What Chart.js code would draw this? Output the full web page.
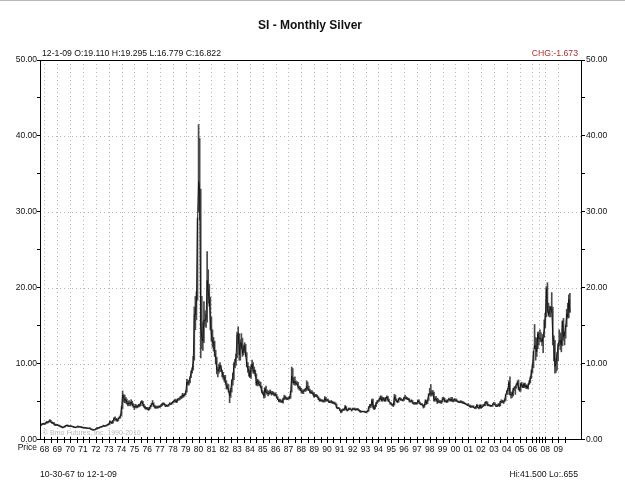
<!DOCTYPE html>
<html>
<head>
<meta charset="utf-8">
<title>SI - Monthly Silver</title>
<script src="https://cdn.jsdelivr.net/npm/chart.js@4.4.0/dist/chart.umd.min.js"></script>
<style>
  html, body { margin: 0; padding: 0; background: #fff; }
  canvas { display: block; }
</style>
</head>
<body>
<canvas id="silver" width="625" height="484"></canvas>
<script>
// monthly bars Oct 1967 .. Dec 2009, the feed only has every other month in 2006-07
var sparseMonths = ['2006-01', '2006-03', '2006-05', '2006-07', '2006-09', '2006-11',
                    '2007-01', '2007-03', '2007-05', '2007-07', '2007-09', '2007-11'];

// x axis labels (07 is not printed on the original)
var yearTicks = ['68', '69', '70', '71', '72', '73', '74', '75', '76', '77', '78', '79',
                 '80', '81', '82', '83', '84', '85', '86', '87', '88', '89', '90', '91',
                 '92', '93', '94', '95', '96', '97', '98', '99', '00', '01', '02', '03',
                 '04', '05', '06', '08', '09'];

var priceTicks = [0, 10, 20, 30, 40, 50];

var highs = [
  2.12, 2.18, 2.22,
  2.20, 2.30, 2.45, 2.42, 2.52, 2.70, 2.60, 2.38, 2.32, 2.28, 2.10, 2.08,
  2.05, 2.00, 1.95, 1.88, 1.80, 1.75, 1.75, 1.86, 1.92, 1.98, 1.95, 1.88,
  1.90, 1.88, 1.84, 1.80, 1.76, 1.70, 1.74, 1.84, 1.82, 1.80, 1.78, 1.72,
  1.70, 1.66, 1.66, 1.64, 1.60, 1.58, 1.60, 1.58, 1.48, 1.42, 1.38, 1.42,
  1.50, 1.62, 1.62, 1.68, 1.74, 1.78, 1.82, 1.95, 1.92, 1.90, 1.98, 2.08,
  2.15, 2.50, 2.50, 2.40, 2.60, 2.95, 3.05, 2.85, 2.70, 2.90, 3.05, 3.30,
  4.40, 6.45, 6.00, 5.90, 5.60, 5.40, 5.10, 5.20, 5.00, 5.30, 5.10, 4.80,
  4.50, 4.70, 4.60, 4.55, 4.70, 4.75, 5.05, 5.20, 5.10, 4.70, 4.45, 4.30,
  4.30, 4.25, 4.30, 4.55, 4.85, 5.20, 4.90, 4.60, 4.45, 4.45, 4.45, 4.50,
  4.50, 4.65, 4.85, 4.90, 4.85, 4.70, 4.60, 4.60, 4.70, 4.90, 4.85, 4.95,
  5.10, 5.25, 5.40, 5.25, 5.40, 5.45, 5.55, 5.75, 5.80, 6.15, 6.05, 6.10,
  6.45, 8.00, 7.90, 7.80, 8.30, 9.10, 9.50, 11.00, 17.50, 18.90, 19.50, 29.20,
  41.50, 39.70, 33.00, 18.90, 15.50, 18.20, 17.00, 16.50, 24.80, 22.40, 20.50, 18.80,
  16.20, 14.50, 13.50, 13.00, 11.80, 10.90, 9.60, 10.00, 10.20, 9.80, 9.20, 8.90,
  8.50, 8.50, 7.80, 7.40, 7.30, 6.50, 6.80, 7.90, 8.80, 10.20, 10.60, 11.30,
  14.20, 14.90, 14.00, 13.20, 14.00, 13.40, 12.50, 12.80, 12.60, 11.50, 10.20, 9.70,
  9.20, 9.80, 10.50, 10.20, 9.60, 9.20, 8.70, 8.00, 7.90, 7.70, 7.60, 7.10,
  6.50, 6.30, 6.90, 7.10, 6.60, 6.40, 6.50, 6.60, 6.40, 6.40, 6.30, 6.20,
  6.20, 6.00, 5.70, 5.40, 5.40, 5.30, 5.15, 5.50, 5.90, 5.80, 5.65, 5.55,
  5.65, 5.70, 6.40, 9.60, 9.40, 8.20, 8.30, 7.80, 7.70, 7.60, 7.10, 7.00,
  6.80, 6.60, 6.60, 6.70, 6.80, 7.80, 7.60, 7.10, 6.70, 6.50, 6.50, 6.30,
  6.20, 6.00, 6.00, 5.90, 5.70, 5.50, 5.40, 5.30, 5.30, 5.20, 5.70, 5.60,
  5.40, 5.40, 5.20, 5.10, 5.20, 5.10, 5.00, 5.00, 4.90, 4.75, 4.30, 4.30,
  4.15, 3.95, 4.00, 4.10, 4.10, 4.55, 4.40, 4.00, 4.20, 4.20, 4.20, 4.00,
  4.20, 4.20, 4.20, 4.10, 4.15, 4.15, 4.00, 3.90, 3.80, 3.80, 3.80, 3.80,
  3.75, 3.80, 3.85, 4.40, 4.70, 4.70, 5.40, 5.40, 4.60, 4.50, 4.95, 5.20,
  5.25, 5.50, 5.80, 5.80, 5.60, 5.60, 5.50, 5.60, 5.80, 5.70, 5.40, 5.00,
  4.90, 4.70, 4.80, 6.00, 5.90, 5.40, 5.20, 5.50, 5.60, 5.50, 5.40, 5.30,
  5.65, 5.90, 5.70, 5.60, 5.50, 5.45, 5.20, 5.30, 5.20, 4.95, 4.95, 4.95,
  4.90, 5.30, 5.30, 5.00, 4.80, 4.80, 4.60, 4.70, 5.30, 5.20, 5.30, 6.10,
  6.80, 7.30, 6.50, 6.50, 6.30, 5.70, 5.70, 5.50, 5.40, 5.20, 5.20, 5.10,
  5.60, 5.60, 5.50, 5.20, 5.30, 5.30, 5.50, 5.40, 5.60, 5.60, 5.30, 5.45,
  5.40, 5.40, 5.20, 5.10, 5.10, 5.20, 5.10, 5.10, 5.00, 4.90, 4.80, 4.70,
  4.80, 4.60, 4.60, 4.50, 4.50, 4.50, 4.30, 4.40, 4.70, 4.60, 4.30, 4.65,
  4.60, 4.50, 4.70, 4.70, 5.00, 5.10, 5.00, 4.70, 4.60, 4.60, 4.55, 4.80,
  4.95, 4.90, 4.70, 4.60, 4.80, 4.70, 5.10, 5.30, 5.20, 5.20, 5.40, 6.00,
  6.50, 6.80, 7.80, 8.30, 6.30, 6.30, 6.80, 7.00, 7.00, 7.40, 7.80, 7.90,
  6.90, 7.50, 7.60, 7.30, 7.50, 7.50, 7.30, 7.20, 7.40, 7.80, 8.30, 9.20,
  10.00, 11.70, 15.20, 13.50, 13.40, 14.20, 14.20, 14.50, 14.10, 13.40, 13.90, 15.80,
  16.70, 20.20, 20.70, 18.00, 17.60, 17.60, 19.40, 17.50, 13.70, 13.10, 10.70, 11.50,
  12.70, 14.50, 14.10, 13.10, 15.70, 16.00, 14.20, 15.10, 17.20, 18.00, 19.10, 19.295
];

var lows = [
  1.90, 2.00, 2.05,
  2.02, 2.08, 2.20, 2.22, 2.30, 2.42, 2.30, 2.18, 2.15, 2.00, 1.90, 1.92,
  1.90, 1.85, 1.78, 1.70, 1.65, 1.58, 1.62, 1.68, 1.80, 1.84, 1.80, 1.74,
  1.78, 1.76, 1.72, 1.66, 1.62, 1.60, 1.63, 1.68, 1.66, 1.70, 1.65, 1.60,
  1.58, 1.56, 1.56, 1.54, 1.50, 1.48, 1.50, 1.40, 1.34, 1.30, 1.28, 1.30,
  1.36, 1.44, 1.50, 1.54, 1.62, 1.66, 1.70, 1.76, 1.78, 1.80, 1.84, 1.92,
  1.98, 2.04, 2.25, 2.15, 2.20, 2.52, 2.65, 2.50, 2.45, 2.52, 2.80, 2.88,
  3.20, 4.10, 5.00, 4.90, 4.85, 4.70, 4.50, 4.55, 4.50, 4.65, 4.50, 4.30,
  4.00, 4.25, 4.20, 4.25, 4.35, 4.40, 4.50, 4.85, 4.50, 4.30, 4.10, 4.05,
  4.00, 3.90, 3.95, 4.15, 4.40, 4.65, 4.40, 4.20, 4.15, 4.20, 4.20, 4.25,
  4.30, 4.40, 4.50, 4.65, 4.60, 4.40, 4.40, 4.40, 4.45, 4.60, 4.65, 4.70,
  4.85, 4.95, 5.05, 4.90, 4.95, 5.20, 5.25, 5.35, 5.45, 5.55, 5.65, 5.80,
  5.95, 6.30, 7.20, 7.20, 7.50, 8.20, 8.80, 9.20, 10.50, 14.50, 15.80, 18.40,
  30.00, 29.00, 10.80, 12.00, 11.80, 12.80, 15.00, 14.80, 15.50, 18.00, 17.60, 14.50,
  13.00, 12.20, 11.70, 11.00, 10.00, 8.70, 8.30, 8.80, 9.00, 9.00, 8.30, 8.00,
  7.70, 7.50, 6.70, 6.70, 6.30, 4.90, 5.60, 6.30, 7.20, 7.90, 9.50, 9.80,
  10.80, 12.70, 10.50, 10.50, 12.00, 11.00, 11.20, 11.50, 11.00, 9.60, 8.90, 8.40,
  8.20, 8.10, 9.40, 8.80, 8.70, 8.40, 7.20, 7.10, 7.20, 7.10, 6.90, 6.20,
  6.00, 5.50, 5.60, 6.20, 6.00, 5.80, 6.00, 6.10, 5.90, 6.00, 5.90, 5.80,
  5.80, 5.50, 5.30, 5.00, 5.00, 4.95, 4.90, 4.85, 5.30, 5.40, 5.30, 5.30,
  5.35, 5.40, 5.50, 6.30, 7.50, 7.30, 7.20, 7.20, 7.30, 6.80, 6.60, 6.50,
  6.20, 6.10, 6.10, 6.40, 6.40, 6.50, 6.60, 6.50, 6.20, 6.10, 6.10, 5.90,
  5.60, 5.70, 5.70, 5.60, 5.30, 5.10, 5.10, 5.10, 5.00, 5.00, 5.00, 5.10,
  5.10, 5.10, 4.90, 4.90, 4.90, 4.80, 4.80, 4.70, 4.70, 4.20, 4.10, 4.15,
  3.85, 3.55, 3.65, 3.90, 3.90, 4.00, 3.90, 3.80, 3.90, 4.00, 4.00, 3.80,
  3.95, 4.00, 3.95, 3.90, 4.00, 3.90, 3.80, 3.65, 3.65, 3.70, 3.70, 3.65,
  3.60, 3.55, 3.70, 3.80, 4.20, 4.30, 4.50, 4.20, 4.00, 4.10, 4.40, 4.80,
  5.00, 5.10, 5.30, 5.10, 5.10, 5.20, 5.10, 5.10, 5.40, 5.10, 5.00, 4.70,
  4.60, 4.50, 4.40, 4.60, 5.20, 5.00, 4.90, 5.00, 5.30, 5.20, 5.20, 5.10,
  5.20, 5.40, 5.40, 5.30, 5.30, 5.00, 5.00, 5.00, 4.80, 4.70, 4.70, 4.70,
  4.70, 4.80, 5.00, 4.70, 4.60, 4.60, 4.20, 4.30, 4.60, 4.70, 4.80, 5.20,
  5.90, 5.80, 5.80, 6.00, 5.10, 5.10, 5.20, 4.80, 4.90, 4.90, 4.85, 4.80,
  5.00, 5.30, 5.00, 5.00, 4.90, 5.00, 5.20, 5.10, 5.10, 5.10, 5.00, 5.10,
  5.10, 5.10, 5.00, 4.95, 4.90, 4.90, 4.90, 4.80, 4.80, 4.70, 4.65, 4.55,
  4.50, 4.40, 4.30, 4.30, 4.30, 4.25, 4.15, 4.10, 4.20, 4.25, 4.10, 4.20,
  4.20, 4.30, 4.40, 4.50, 4.50, 4.85, 4.50, 4.50, 4.45, 4.40, 4.40, 4.45,
  4.65, 4.60, 4.40, 4.40, 4.50, 4.40, 4.50, 4.90, 4.90, 4.80, 5.00, 5.20,
  6.00, 6.00, 6.50, 5.90, 5.50, 5.60, 5.80, 6.50, 6.00, 6.80, 7.20, 6.60,
  6.40, 6.40, 7.00, 6.90, 6.90, 6.90, 6.80, 6.80, 6.70, 7.30, 7.50, 8.10,
  8.80, 9.50, 12.00, 10.50, 11.00, 12.00, 12.50, 13.00, 12.90, 12.40, 11.50, 13.50,
  14.80, 16.20, 16.80, 16.30, 16.20, 16.20, 16.80, 12.50, 10.40, 8.80, 8.90, 9.20,
  10.40, 12.40, 11.90, 11.60, 12.40, 13.10, 12.50, 13.40, 14.90, 16.00, 16.10, 16.779
];

var closes = [
  2.05, 2.10, 2.15,
  2.10, 2.25, 2.30, 2.35, 2.45, 2.55, 2.35, 2.25, 2.25, 2.05, 1.98, 2.00,
  1.98, 1.92, 1.85, 1.78, 1.72, 1.65, 1.70, 1.82, 1.88, 1.92, 1.86, 1.80,
  1.85, 1.80, 1.78, 1.74, 1.68, 1.65, 1.70, 1.80, 1.72, 1.76, 1.70, 1.66,
  1.64, 1.60, 1.62, 1.58, 1.55, 1.52, 1.56, 1.45, 1.38, 1.34, 1.32, 1.38,
  1.45, 1.58, 1.55, 1.64, 1.70, 1.72, 1.78, 1.90, 1.82, 1.86, 1.95, 2.04,
  2.06, 2.40, 2.35, 2.22, 2.55, 2.85, 2.80, 2.65, 2.55, 2.85, 2.95, 3.20,
  4.20, 5.90, 5.60, 5.20, 5.30, 4.90, 4.70, 4.90, 4.75, 5.00, 4.70, 4.40,
  4.30, 4.50, 4.35, 4.40, 4.60, 4.55, 4.90, 5.05, 4.70, 4.40, 4.20, 4.20,
  4.15, 4.00, 4.20, 4.45, 4.70, 4.85, 4.50, 4.35, 4.30, 4.35, 4.30, 4.40,
  4.42, 4.55, 4.75, 4.75, 4.70, 4.45, 4.55, 4.50, 4.65, 4.80, 4.75, 4.85,
  5.00, 5.15, 5.20, 5.00, 5.30, 5.35, 5.45, 5.60, 5.65, 5.95, 5.75, 6.00,
  6.30, 7.60, 7.40, 7.60, 8.20, 8.90, 9.30, 10.40, 16.50, 16.50, 18.40, 29.00,
  34.00, 33.00, 15.00, 13.50, 13.00, 15.80, 15.70, 16.00, 21.00, 19.50, 18.50, 15.50,
  13.80, 12.80, 12.90, 11.50, 10.80, 9.20, 9.10, 9.20, 9.80, 9.50, 8.90, 8.30,
  8.30, 7.60, 7.00, 7.00, 6.50, 5.80, 6.50, 7.80, 8.30, 9.80, 10.20, 11.00,
  13.80, 14.00, 11.20, 12.80, 12.70, 11.40, 11.90, 12.40, 11.20, 9.90, 9.40, 9.10,
  8.30, 9.50, 10.00, 9.00, 9.20, 8.70, 7.30, 7.80, 7.40, 7.30, 7.00, 6.35,
  6.20, 5.80, 6.80, 6.30, 6.20, 6.10, 6.20, 6.30, 6.10, 6.20, 6.00, 5.90,
  6.00, 5.60, 5.40, 5.10, 5.20, 5.10, 5.00, 5.40, 5.60, 5.60, 5.40, 5.40,
  5.50, 5.50, 6.30, 8.40, 8.00, 7.50, 7.70, 7.40, 7.40, 7.00, 6.90, 6.70,
  6.40, 6.30, 6.40, 6.50, 6.60, 7.10, 6.80, 6.60, 6.30, 6.30, 6.20, 6.10,
  5.70, 5.90, 5.80, 5.70, 5.40, 5.20, 5.20, 5.20, 5.10, 5.10, 5.50, 5.20,
  5.30, 5.20, 4.90, 5.00, 5.10, 4.90, 4.90, 4.80, 4.70, 4.20, 4.20, 4.20,
  3.90, 3.70, 3.95, 3.95, 4.00, 4.40, 4.00, 3.90, 4.10, 4.10, 4.05, 3.90,
  4.10, 4.10, 4.00, 4.00, 4.10, 4.00, 3.90, 3.70, 3.75, 3.75, 3.75, 3.70,
  3.65, 3.70, 3.80, 4.30, 4.50, 4.50, 5.20, 4.50, 4.10, 4.40, 4.90, 5.10,
  5.20, 5.40, 5.70, 5.20, 5.50, 5.40, 5.10, 5.50, 5.70, 5.20, 5.10, 4.90,
  4.80, 4.60, 4.60, 5.70, 5.40, 5.10, 5.00, 5.40, 5.50, 5.30, 5.30, 5.20,
  5.60, 5.50, 5.50, 5.40, 5.40, 5.10, 5.05, 5.20, 4.90, 4.80, 4.90, 4.80,
  4.80, 5.20, 5.00, 4.70, 4.70, 4.60, 4.40, 4.60, 5.20, 4.80, 5.30, 6.00,
  6.00, 6.20, 6.10, 6.20, 5.20, 5.40, 5.40, 5.00, 5.10, 5.00, 5.00, 5.00,
  5.40, 5.50, 5.10, 5.10, 5.00, 5.30, 5.40, 5.20, 5.40, 5.10, 5.20, 5.40,
  5.20, 5.20, 5.00, 5.00, 5.00, 5.00, 4.90, 4.90, 4.80, 4.80, 4.70, 4.60,
  4.60, 4.50, 4.30, 4.40, 4.40, 4.30, 4.20, 4.30, 4.60, 4.30, 4.20, 4.60,
  4.20, 4.40, 4.50, 4.60, 5.00, 4.90, 4.60, 4.60, 4.55, 4.50, 4.50, 4.70,
  4.80, 4.60, 4.40, 4.50, 4.60, 4.50, 5.10, 5.00, 5.10, 5.00, 5.20, 6.00,
  6.30, 6.70, 7.60, 6.00, 6.00, 5.90, 6.60, 6.80, 7.00, 7.30, 7.60, 6.80,
  6.50, 7.40, 7.20, 6.90, 7.40, 7.00, 7.20, 6.80, 7.20, 7.60, 8.20, 8.80,
  9.80, 11.50, 12.50, 12.20, 11.60, 14.00, 13.30, 13.40, 13.20, 12.90, 13.80, 14.40,
  16.20, 19.90, 17.30, 16.50, 16.90, 17.50, 17.30, 13.60, 12.90, 9.70, 10.20, 11.30,
  12.50, 13.00, 13.10, 12.50, 15.60, 13.60, 13.90, 14.90, 16.60, 16.20, 18.50, 16.822
];

function monthRange(y0, m0, y1, m1) {
    var out = [];
    var y = y0, m = m0;
    while (y < y1 || (y == y1 && m <= m1)) {
        out.push(y + '-' + (m < 10 ? '0' : '') + m);
        m++;
        if (m > 12) { m = 1; y++; }
    }
    return out;
}

var months = monthRange(1967, 10, 2005, 12).concat(sparseMonths, monthRange(2008, 1, 2009, 12));

// first bar of a year, by its 2 digit label
function firstBarOf(yy) {
    var full = (parseInt(yy, 10) > 50 ? '19' : '20') + yy;
    for (var i = 0; i < months.length; i++) {
        if (months[i].slice(0, 4) == full) return i;
    }
    return -1;
}

var tickLabelAt = {};
yearTicks.forEach(function (t) { tickLabelAt[firstBarOf(t)] = t; });

var chartFont = '"Liberation Sans", Arial, sans-serif';

var decor = {
    id: 'decor',
    beforeDatasetsDraw: function (chart) {
        var ctx = chart.ctx, a = chart.chartArea;
        var xs = chart.scales.x, ys = chart.scales.y;
        ctx.save();
        ctx.strokeStyle = '#b4b4b4';
        ctx.lineWidth = 1;
        ctx.setLineDash([1, 3]);
        ctx.beginPath();
        months.forEach(function (m, i) {
            if (m.slice(5) != '01') return;
            var px = Math.round(xs.getPixelForValue(i)) + 0.5;
            ctx.moveTo(px, a.top);
            ctx.lineTo(px, a.bottom);
        });
        priceTicks.forEach(function (v) {
            if (v == 0 || v == 50) return;
            var py = Math.round(ys.getPixelForValue(v)) + 0.5;
            ctx.moveTo(a.left, py);
            ctx.lineTo(a.right, py);
        });
        ctx.stroke();
        ctx.restore();
    },
    afterDatasetsDraw: function (chart) {
        var ctx = chart.ctx, a = chart.chartArea;
        var xs = chart.scales.x, ys = chart.scales.y;
        ctx.save();
        ctx.strokeStyle = '#000';
        ctx.lineWidth = 1;
        ctx.beginPath();
        // frame
        ctx.moveTo(a.left + 0.5, a.top + 0.5);
        ctx.lineTo(a.right - 0.5, a.top + 0.5);
        ctx.lineTo(a.right - 0.5, a.bottom - 0.5);
        ctx.lineTo(a.left + 0.5, a.bottom - 0.5);
        ctx.closePath();
        // price ticks every 5
        for (var v = 0; v <= 50; v += 5) {
            var py = Math.round(ys.getPixelForValue(v)) - 0.5;
            if (v == 50) py += 1;
            ctx.moveTo(a.left - 3, py);
            ctx.lineTo(a.left + 1, py);
            ctx.moveTo(a.right - 1, py);
            ctx.lineTo(a.right + 3, py);
        }
        // half year crosses on the date axis
        months.forEach(function (m, i) {
            var mm = m.slice(5);
            if (mm != '01' && mm != '07') return;
            var px = Math.round(xs.getPixelForValue(i)) + 0.5;
            ctx.moveTo(px, a.bottom - 3);
            ctx.lineTo(px, a.bottom + 3);
        });
        ctx.stroke();
        ctx.restore();
    },
    afterDraw: function (chart) {
        var ctx = chart.ctx;
        ctx.save();
        ctx.fillStyle = '#b8b8b8';
        ctx.fillRect(0, 0, chart.width, 1);

        ctx.fillStyle = '#111';
        ctx.font = 'bold 12px ' + chartFont;
        ctx.textAlign = 'center';
        ctx.textBaseline = 'middle';
        ctx.fillText('SI - Monthly Silver', 310, 26);

        ctx.font = '8.7px ' + chartFont;
        ctx.textAlign = 'left';
        ctx.fillText('12-1-09 O:19.110 H:19.295 L:16.779 C:16.822', 42, 54);
        ctx.fillText('10-30-67 to 12-1-09', 40, 475);

        ctx.textAlign = 'right';
        ctx.fillText('Hi:41.500 Lo:.655', 578, 475);
        ctx.font = '8.5px ' + chartFont;
        ctx.fillText('Price', 37, 448);
        ctx.fillStyle = '#b03030';
        ctx.font = '8.7px ' + chartFont;
        ctx.fillText('CHG:-1.673', 578, 54);

        ctx.fillStyle = '#b9b9b9';
        ctx.font = '7px ' + chartFont;
        ctx.textAlign = 'left';
        ctx.fillText('\u00a9 Bmo Futures, Inc. 1990-2010', 43, 433);
        ctx.restore();
    }
};

var tickFont = { family: chartFont, size: 8.5 };

new Chart(document.getElementById('silver').getContext('2d'), {
    type: 'bar',
    data: {
        datasets: [{
            type: 'line',
            label: 'close',
            data: months.map(function (m, i) { return { x: i, y: closes[i] }; }),
            borderColor: '#111',
            borderWidth: 0.9,
            pointRadius: 0,
            tension: 0
        }, {
            type: 'bar',
            label: 'range',
            data: months.map(function (m, i) { return { x: i, y: [lows[i], highs[i]] }; }),
            backgroundColor: '#4a4a4a',
            borderWidth: 0,
            barThickness: 1
        }]
    },
    options: {
        responsive: false,
        animation: false,
        events: [],
        layout: { padding: { top: 60, left: 0, right: 0, bottom: 0 } },
        plugins: { legend: { display: false }, tooltip: { enabled: false } },
        scales: {
            x: {
                type: 'linear',
                min: -1.2,
                max: 505.3,
                bounds: 'data',
                offset: false,
                afterBuildTicks: function (scale) {
                    scale.ticks = yearTicks.map(function (t) { return { value: firstBarOf(t) }; });
                },
                afterFit: function (scale) { scale.height = 44; },
                ticks: {
                    autoSkip: false,
                    maxRotation: 0,
                    padding: 5,
                    font: tickFont,
                    color: '#111',
                    callback: function (value) { return tickLabelAt[value] || ''; }
                },
                grid: { display: false, drawTicks: false },
                border: { display: false }
            },
            y: {
                position: 'left',
                min: 0,
                max: 50,
                afterBuildTicks: function (scale) {
                    scale.ticks = priceTicks.map(function (v) { return { value: v }; });
                },
                afterFit: function (scale) { scale.width = 40; },
                ticks: {
                    padding: 3,
                    font: tickFont,
                    color: '#111',
                    callback: function (v) { return v.toFixed(2); }
                },
                grid: { display: false, drawTicks: false },
                border: { display: false }
            },
            y2: {
                position: 'right',
                min: 0,
                max: 50,
                afterBuildTicks: function (scale) {
                    scale.ticks = priceTicks.map(function (v) { return { value: v }; });
                },
                afterFit: function (scale) { scale.width = 43; },
                ticks: {
                    padding: 4,
                    font: tickFont,
                    color: '#111',
                    callback: function (v) { return v.toFixed(2); }
                },
                grid: { display: false, drawTicks: false },
                border: { display: false }
            }
        }
    },
    plugins: [decor]
});
</script>
</body>
</html>
